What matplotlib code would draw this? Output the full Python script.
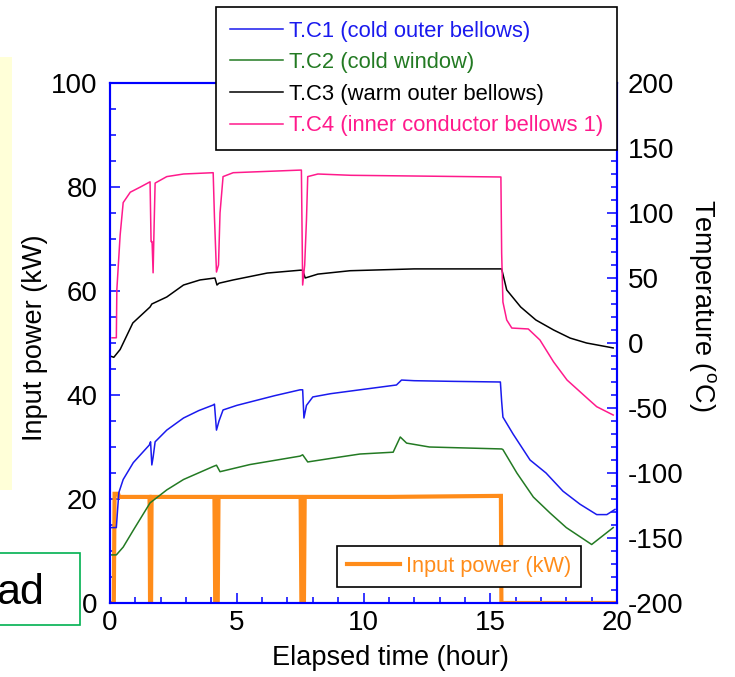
import numpy as np
import matplotlib.pyplot as plt
from matplotlib.patches import Rectangle
from matplotlib.ticker import MultipleLocator

plt.rcParams['font.family'] = ['Liberation Sans', 'DejaVu Sans']
plt.rcParams['mathtext.fontset'] = 'custom'
plt.rcParams['mathtext.rm'] = 'Liberation Sans'
plt.rcParams['axes.unicode_minus'] = False

# ---- data ----
# input power (kW), left axis
p_time = [0.0, 0.15, 0.18, 0.32, 0.36, 1.56, 1.58, 1.62, 1.64, 4.12, 4.15, 4.25, 4.28,
          7.52, 7.55, 7.65, 7.68, 11.0, 15.42, 15.44, 20.0]
p_kw = [0.0, 0.0, 21.0, 21.0, 20.4, 20.4, 0.0, 0.0, 20.4, 20.4, 0.0, 0.0, 20.4,
        20.4, 0.0, 0.0, 20.4, 20.4, 20.6, 0.0, 0.0]

# T.C1 cold outer bellows
tc1_time = [0.0, 0.25, 0.3, 0.35, 0.52, 0.92, 1.2, 1.55, 1.6, 1.65, 1.7, 1.78, 2.24, 2.9,
            3.5, 4.07, 4.12, 4.2, 4.3, 4.46, 5.0, 5.52, 6.5, 7.5, 7.6, 7.65, 7.75, 8.0,
            8.7, 9.86, 11.3, 11.5, 12.0, 13.5, 15.4, 15.45, 15.5, 15.9, 16.57, 17.2,
            17.87, 18.54, 19.2, 19.6, 19.92]
tc1 = [-142, -142, -128, -115, -105, -92, -86, -78.5, -76, -93.8, -88, -76, -67, -57.7,
       -52, -47.7, -47, -67, -60, -51.5, -48, -45.4, -40.5, -36, -36, -57.7, -48, -41.5,
       -39, -36, -32.3, -28.5, -29, -29.5, -30, -45, -57, -70, -90, -100,
       -114, -124, -132, -132, -128]

# T.C2 cold window
tc2_time = [0.0, 0.25, 0.52, 0.92, 1.58, 2.24, 2.9, 4.07, 4.2, 4.34, 5.52, 7.5, 7.6,
            7.8, 8.8, 9.86, 11.17, 11.45, 11.7, 12.6, 15.45, 15.5, 16.05, 16.7, 17.36,
            18.0, 19.0, 19.85]
tc2 = [-163, -163, -157, -144, -123, -113, -105, -95, -94, -99, -93.5, -87, -86,
       -91.5, -88.5, -85.4, -84, -72.3, -77, -80, -81.5, -82, -100, -118.5, -130.8,
       -142, -155, -142]

# T.C3 warm outer bellows
tc3_time = [0.0, 0.15, 0.4, 0.9, 1.58, 1.65, 2.24, 2.9, 3.55, 4.14, 4.22, 4.3, 4.86,
            6.2, 7.5, 7.6, 7.7, 8.2, 9.47, 12.0, 15.45, 15.65, 16.2, 16.8, 17.5, 18.15,
            18.8, 19.85]
tc3 = [-10, -11, -5, 15.4, 27.7, 30, 35.4, 44.6, 48.5, 50, 44.6, 46, 48.5,
       53.8, 56, 56, 50, 53, 55.6, 57, 57, 40.8, 27.7, 17.7, 10, 3.8,
       0, -3.8]

# T.C4 inner conductor bellows 1
tc4_time = [0.08, 0.25, 0.27, 0.4, 0.52, 0.8, 1.2, 1.58, 1.62, 1.66, 1.7, 1.74, 1.78,
            2.24, 2.9, 4.07, 4.12, 4.2, 4.28, 4.34, 4.46, 4.86, 7.5, 7.55, 7.6, 7.68,
            7.75, 7.8, 8.2, 9.5, 15.42, 15.45, 15.5, 15.65, 15.85, 16.5, 16.96, 17.5,
            18.03, 18.9, 19.2, 19.85]
tc4 = [4, 4, 41, 83, 108, 116, 120, 124, 78, 78, 54, 90, 123,
       128, 130, 131, 97, 54.6, 60, 100, 128, 131, 133, 133, 44.6, 60,
       94.6, 128, 130, 129, 127.7, 69, 31.5, 17.7, 11.5, 10.8, 2.3, -14.6,
       -28.5, -43.8, -49, -55.4]

series = [
    (tc1_time, tc1, '#1a1aee', 'T.C1 (cold outer bellows)'),
    (tc2_time, tc2, '#237a23', 'T.C2 (cold window)'),
    (tc3_time, tc3, '#000000', 'T.C3 (warm outer bellows)'),
    (tc4_time, tc4, '#ff1a8c', 'T.C4 (inner conductor bellows 1)'),
]
orange = '#ff8c1a'
axis_blue = '#0000ff'

W, H = 735, 677
fig = plt.figure(figsize=(W / 100, H / 100), dpi=100)

# bits of the surrounding slide
fig.patches.append(Rectangle((0, 1 - 490 / H), 12 / W, (490 - 57) / H,
                             transform=fig.transFigure, facecolor='#ffffd8',
                             edgecolor='none', zorder=0))
fig.patches.append(Rectangle((-2 / W, 1 - 625 / H), 82 / W, 72 / H,
                             transform=fig.transFigure, facecolor='white',
                             edgecolor='#00b050', linewidth=1.2, zorder=0))
fig.text(44 / W, 1 - 604 / H, 'ad', fontsize=31, ha='right', va='baseline')

ax = fig.add_axes([110 / W, 1 - 603 / H, 507 / W, 520 / H])
ax2 = ax.twinx()

ax.plot(p_time, p_kw, color=orange, lw=3.0, solid_joinstyle='miter',
        label='Input power (kW)')
handles = []
for t, v, c, lab in series:
    h, = ax2.plot(t, v, color=c, lw=1.1, label=lab)
    handles.append(h)

ax.set_xlim(0, 20)
ax.set_ylim(0, 100)
ax2.set_ylim(-200, 200)

ax.xaxis.set_major_locator(MultipleLocator(5))
ax.xaxis.set_minor_locator(MultipleLocator(1))
ax.yaxis.set_major_locator(MultipleLocator(20))
ax.yaxis.set_minor_locator(MultipleLocator(5))
ax2.yaxis.set_major_locator(MultipleLocator(50))
ax2.yaxis.set_minor_locator(MultipleLocator(10))

for a in (ax, ax2):
    for s in a.spines.values():
        s.set_color(axis_blue)
        s.set_linewidth(1.5)
    a.tick_params(which='both', direction='in', color=axis_blue, width=1.1,
                  labelcolor='black', labelsize=20)
    a.tick_params(which='major', length=7.2)
    a.tick_params(which='minor', length=4.3)
ax.tick_params(axis='y', pad=9)
ax.tick_params(axis='x', pad=5)
ax2.tick_params(axis='y', pad=8)

ax.set_xlabel('Elapsed time (hour)', fontsize=19.5)
ax.xaxis.set_label_coords(0.554, -0.081)
ax.set_ylabel('Input power (kW)', fontsize=19.5)
ax.yaxis.set_label_coords(-0.122, 0.51)
ax2.set_ylabel('Temperature ($^\\mathregular{o}$C)', fontsize=19.5,
               rotation=270, va='bottom')
ax2.yaxis.set_label_coords(1.138, 0.573)

leg1 = ax2.legend(handles=handles, loc='upper left',
                  bbox_to_anchor=(216 / W, 1 - 7 / H), bbox_transform=fig.transFigure,
                  borderaxespad=0, fontsize=15.8, frameon=True, fancybox=False,
                  edgecolor='black', framealpha=1, handlelength=2.45,
                  handletextpad=0.27, borderpad=0.62, labelspacing=0.48)
leg1.get_frame().set_linewidth(1.2)
for txt, (_, _, c, _) in zip(leg1.get_texts(), series):
    txt.set_color(c)
ax2.add_artist(leg1)

oh, = ax.get_lines()
leg2 = ax2.legend(handles=[oh], loc='upper left',
                  bbox_to_anchor=(337 / W, 1 - 546 / H), bbox_transform=fig.transFigure,
                  borderaxespad=0, fontsize=15.7, frameon=True, fancybox=False,
                  edgecolor='black', framealpha=1, handlelength=2.45,
                  handletextpad=0.25, borderpad=0.46)
leg2.get_frame().set_linewidth(1.2)
leg2.get_texts()[0].set_color(orange)

fig.savefig('out.png', dpi=100)
